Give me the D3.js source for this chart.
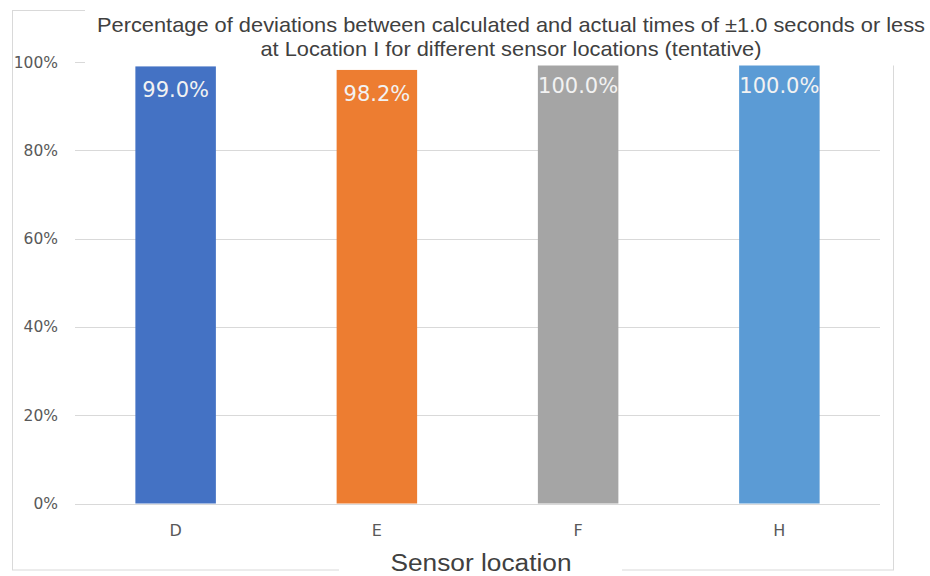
<!DOCTYPE html>
<html><head><meta charset="utf-8">
<script src="https://cdn.jsdelivr.net/npm/d3@7"></script>
<style>body{margin:0;background:#fff;}svg{display:block;}</style>
</head><body>
<svg id="chart" width="930" height="576"></svg>
<script>
const categories = ["D", "E", "F", "H"];
const values = [99.0, 98.2, 100.0, 100.0];
const barColors = ["#4472C4", "#ED7D31", "#A5A5A5", "#5B9BD5"];
const yTicks = [0, 20, 40, 60, 80, 100];
const titleLines = ["Percentage of deviations between calculated and actual times of \u00b11.0 seconds or less",
                    "at Location I for different sensor locations (tentative)"];
const xAxisTitle = "Sensor location";

const svg = d3.select("#chart");
const x = d3.scaleBand().domain(categories).range([75, 880]).paddingInner(0.6).paddingOuter(0.3);
const y = d3.scaleLinear().domain([0, 100]).range([503.5, 62]);

// outer border
svg.append("rect").attr("x", 12.5).attr("y", 10.5).attr("width", 881).attr("height", 559.5)
  .attr("fill", "#fff").attr("stroke", "#d9d9d9").attr("stroke-width", 1);

// gridlines
svg.append("g").selectAll("line").data(yTicks).join("line")
  .attr("x1", 75).attr("x2", 880)
  .attr("y1", d => Math.round(y(d)) + 0.5).attr("y2", d => Math.round(y(d)) + 0.5)
  .attr("stroke", "#d9d9d9").attr("stroke-width", 1);

// y tick labels
svg.append("g").selectAll("text").data(yTicks).join("text")
  .attr("x", 58).attr("y", d => y(d) + 5.5)
  .attr("text-anchor", "end")
  .attr("font-family", "DejaVu Sans, sans-serif").attr("font-size", 15.5)
  .attr("fill", "#595959")
  .text(d => d + "%");

// bars
svg.append("g").selectAll("rect").data(categories).join("rect")
  .attr("x", d => x(d)).attr("width", x.bandwidth())
  .attr("y", (d, i) => y(values[i]))
  .attr("height", (d, i) => y(0) - y(values[i]))
  .attr("fill", (d, i) => barColors[i]);

// category labels
svg.append("g").selectAll("text").data(categories).join("text")
  .attr("x", d => x(d) + x.bandwidth() / 2).attr("y", 536)
  .attr("text-anchor", "middle")
  .attr("font-family", "DejaVu Sans, sans-serif").attr("font-size", 16)
  .attr("fill", "#595959")
  .text(d => d);

// title background + title
const titleWidths = [828, 501];
svg.append("rect").attr("x", 85).attr("y", 0).attr("width", 845).attr("height", 65.5).attr("fill", "#fff");
svg.append("g").selectAll("text").data(titleLines).join("text")
  .attr("x", 511).attr("y", (d, i) => 32 + i * 24)
  .attr("text-anchor", "middle")
  .attr("textLength", (d, i) => titleWidths[i]).attr("lengthAdjust", "spacingAndGlyphs")
  .attr("font-family", "Liberation Sans, Arial, sans-serif").attr("font-size", 21)
  .attr("fill", "#404040")
  .text(d => d);

// data labels
svg.append("g").selectAll("text").data(categories).join("text")
  .attr("x", d => x(d) + x.bandwidth() / 2)
  .attr("y", (d, i) => y(values[i]) + 31)
  .attr("text-anchor", "middle")
  .attr("font-family", "DejaVu Sans, sans-serif").attr("font-size", 21)
  .attr("fill", "#f2f2f2")
  .text((d, i) => values[i].toFixed(1) + "%");

// x-axis title with white background
svg.append("rect").attr("x", 339).attr("y", 546).attr("width", 283).attr("height", 30).attr("fill", "#fff");
svg.append("text").attr("x", 481).attr("y", 571)
  .attr("text-anchor", "middle")
  .attr("textLength", 181).attr("lengthAdjust", "spacingAndGlyphs")
  .attr("font-family", "Liberation Sans, Arial, sans-serif").attr("font-size", 23)
  .attr("fill", "#404040")
  .text(xAxisTitle);
</script>
</body></html>
